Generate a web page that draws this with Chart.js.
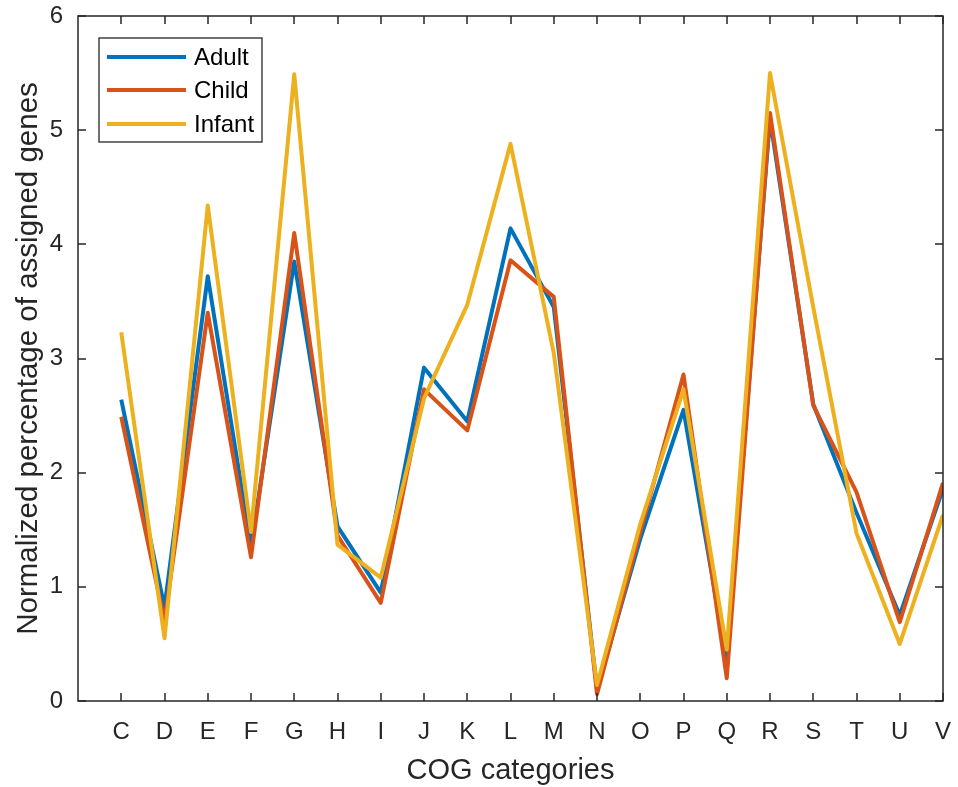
<!DOCTYPE html>
<html><head><meta charset="utf-8">
<script src="https://cdn.jsdelivr.net/npm/chart.js@4.4.0/dist/chart.umd.min.js"></script>
<style>html,body{margin:0;padding:0;background:#fff}#wrap{width:958px;height:787px}</style>
</head><body><div id="wrap"><canvas id="c" width="958" height="787"></canvas></div>
<script>
const categories = ['C','D','E','F','G','H','I','J','K','L','M','N','O','P','Q','R','S','T','U','V'];
const adult  = [2.64, 0.82, 3.72, 1.35, 3.85, 1.53, 0.95, 2.92, 2.45, 4.14, 3.45, 0.10, 1.42, 2.55, 0.35, 5.10, 2.60, 1.65, 0.75, 1.86];
const child  = [2.49, 0.70, 3.40, 1.26, 4.10, 1.45, 0.86, 2.73, 2.37, 3.86, 3.54, 0.06, 1.48, 2.86, 0.20, 5.15, 2.59, 1.83, 0.69, 1.91];
const infant = [3.23, 0.55, 4.34, 1.48, 5.49, 1.37, 1.08, 2.65, 3.47, 4.88, 3.05, 0.14, 1.55, 2.73, 0.45, 5.50, 3.45, 1.47, 0.50, 1.63];
const yTicks = [0, 1, 2, 3, 4, 5, 6];
const seriesNames = ['Adult', 'Child', 'Infant'];
const seriesColors = ['#0072BD', '#D95319', '#EDB120'];
const xTitle = 'COG categories';
const yTitle = 'Normalized percentage of assigned genes';

const FONT = '"Liberation Sans", Arial, Helvetica, sans-serif';
const AX = '#262626';

function pts(arr){ return arr.map((v,i)=>({x:i+1, y:v})); }
const series = [adult, child, infant];

const boxPlugin = {
  id: 'matlabBox',
  afterDraw(chart){
    const {ctx, chartArea:ca, scales} = chart;
    const xs = scales.x, ys = scales.y;
    ctx.save();
    ctx.strokeStyle = AX;
    ctx.lineWidth = 1.5;
    ctx.strokeRect(ca.left, ca.top, ca.right-ca.left, ca.bottom-ca.top);
    const tl = 8;
    ctx.beginPath();
    categories.forEach((c,i)=>{
      const px = Math.round(xs.getPixelForValue(i+1));
      ctx.moveTo(px, ca.bottom); ctx.lineTo(px, ca.bottom-tl);
      ctx.moveTo(px, ca.top); ctx.lineTo(px, ca.top+tl);
    });
    yTicks.forEach(v=>{
      const py = Math.round(ys.getPixelForValue(v));
      ctx.moveTo(ca.left, py); ctx.lineTo(ca.left+tl, py);
      ctx.moveTo(ca.right, py); ctx.lineTo(ca.right-tl, py);
    });
    ctx.stroke();
    // legend
    const bx = ca.left+21, by = ca.top+22, bw = 163, bh = 104;
    ctx.fillStyle = '#fff';
    ctx.fillRect(bx, by, bw, bh);
    ctx.lineWidth = 1.3;
    ctx.strokeStyle = AX;
    ctx.strokeRect(bx, by, bw, bh);
    const rows = [19, 52, 86];
    chart.data.datasets.forEach((ds, i)=>{
      const y = by + rows[i];
      ctx.strokeStyle = ds.borderColor;
      ctx.lineWidth = ds.borderWidth;
      ctx.beginPath();
      ctx.moveTo(bx+8, y); ctx.lineTo(bx+87, y);
      ctx.stroke();
      ctx.fillStyle = '#000';
      ctx.font = '24px ' + FONT;
      ctx.textBaseline = 'middle';
      ctx.textAlign = 'left';
      ctx.fillText(ds.label, bx+95, y+1);
    });
    ctx.restore();
  }
};

new Chart(document.getElementById('c'), {
  type: 'line',
  data: {
    datasets: series.map((s,i)=>({
      label: seriesNames[i],
      data: pts(s),
      borderColor: seriesColors[i],
      backgroundColor: seriesColors[i],
      borderWidth: 4,
      borderJoinStyle: 'round',
      borderCapStyle: 'butt',
      pointRadius: 0,
      tension: 0,
      fill: false,
      order: 2 - i
    }))
  },
  options: {
    responsive: false,
    animation: false,
    devicePixelRatio: 1,
    layout: { padding: { top: 16, right: 15, left: 0, bottom: 0 } },
    plugins: { legend: { display: false }, tooltip: { enabled: false } },
    scales: {
      x: {
        type: 'linear', min: 0, max: 20,
        grid: { display: false, drawTicks: false },
        border: { display: false },
        afterBuildTicks(scale){ scale.ticks = categories.map((c,i)=>({value:i+1})); },
        afterFit(scale){ scale.height = 86; scale.paddingLeft = 0; scale.paddingRight = 0; },
        ticks: {
          autoSkip: false, maxRotation: 0, minRotation: 0, padding: 17,
          color: AX, font: { family: FONT, size: 24 },
          callback(v){ return categories[v-1] || ''; }
        },
        title: { display: true, text: xTitle, color: AX, font: { family: FONT, size: 29, lineHeight: 1 }, padding: { top: 0, bottom: 2 } }
      },
      y: {
        min: 0, max: 6,
        grid: { display: false, drawTicks: false },
        border: { display: false },
        afterBuildTicks(scale){ scale.ticks = yTicks.map(v=>({value:v})); },
        afterFit(scale){ scale.width = 78; scale.paddingTop = 0; scale.paddingBottom = 0; },
        ticks: { padding: 15, color: AX, font: { family: FONT, size: 24 } },
        title: { display: true, text: yTitle, color: AX, font: { family: FONT, size: 29.5, lineHeight: 1 }, padding: { top: 14, bottom: 0 } }
      }
    }
  },
  plugins: [boxPlugin]
});
</script>
</body></html>
